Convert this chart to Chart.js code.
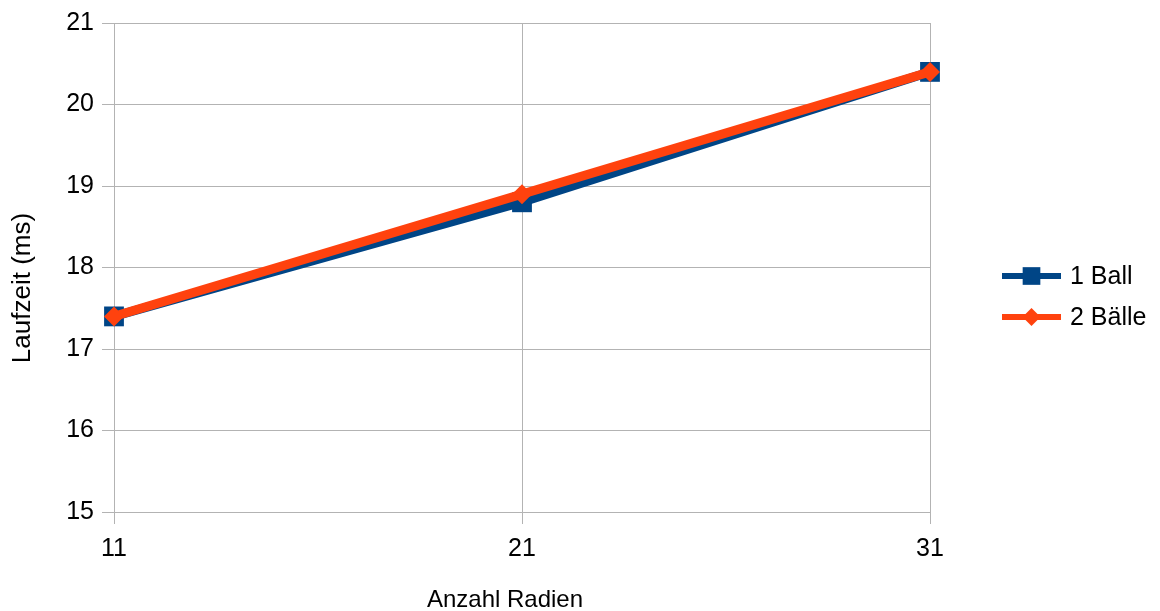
<!DOCTYPE html>
<html>
<head>
<meta charset="utf-8">
<script src="https://cdn.jsdelivr.net/npm/chart.js@4/dist/chart.umd.min.js"></script>
<style>
  html, body { margin: 0; padding: 0; background: #ffffff; }
  #wrap { width: 1160px; height: 611px; position: relative; }
</style>
</head>
<body>
<div id="wrap"><canvas id="c" width="1160" height="611"></canvas></div>
<script>
// Anzahl Radien (x categories)
const radien = ['11', '21', '31'];
// Laufzeit in ms
const einBall = [17.4, 18.8, 20.4];
const zweiBaelle = [17.4, 18.9, 20.4];
const seriesNames = ['1 Ball', '2 Bälle'];
const yTitle = 'Laufzeit (ms)';
const xTitle = 'Anzahl Radien';

const FONT = "'Liberation Sans', Arial, sans-serif";
const GRID = '#b3b3b3';
const BLUE = '#004586';
const ORANGE = '#ff420e';

// Axis titles, placed relative to the whole page rather than the plot area
const axisTitles = {
  id: 'axisTitles',
  afterDraw(chart) {
    const ctx = chart.ctx;
    ctx.save();
    ctx.fillStyle = '#000000';
    ctx.textAlign = 'center';
    ctx.textBaseline = 'middle';
    ctx.font = '24px ' + FONT;
    ctx.fillText(xTitle, 505, 600);
    ctx.translate(23, 288);
    ctx.rotate(-Math.PI / 2);
    ctx.font = '26px ' + FONT;
    ctx.fillText(yTitle, 0, 0);
    ctx.restore();
  }
};

// Legend drawn at the right: a short line with the series marker, then the name
const sideLegend = {
  id: 'sideLegend',
  afterDraw(chart) {
    const ctx = chart.ctx;
    const ys = [276, 317];
    ctx.save();
    chart.data.datasets.forEach((ds, k) => {
      const y = ys[k];
      const x0 = 1002, x1 = 1061, xm = (x0 + x1) / 2;
      ctx.strokeStyle = ds.borderColor;
      ctx.lineWidth = 6;
      ctx.beginPath();
      ctx.moveTo(x0, y);
      ctx.lineTo(x1, y);
      ctx.stroke();
      ctx.fillStyle = ds.borderColor;
      Chart.helpers.drawPoint(ctx, {
        pointStyle: ds.pointStyle,
        radius: ds.pointStyle === 'rect' ? 12.5 : 9,
        borderWidth: 0,
        rotation: 0
      }, xm, y);
      ctx.fillStyle = '#000000';
      ctx.font = '25px ' + FONT;
      ctx.textBaseline = 'middle';
      ctx.textAlign = 'left';
      ctx.fillText(ds.label, 1070, y + 1);
    });
    ctx.restore();
  }
};

new Chart(document.getElementById('c'), {
  type: 'line',
  data: {
    labels: radien,
    datasets: [
      {
        label: seriesNames[0],
        data: einBall,
        borderColor: BLUE,
        backgroundColor: BLUE,
        borderWidth: 9,
        pointStyle: 'rect',
        pointRadius: 14,
        pointBorderWidth: 0,
        pointBackgroundColor: BLUE,
        tension: 0,
        order: 1
      },
      {
        label: seriesNames[1],
        data: zweiBaelle,
        borderColor: ORANGE,
        backgroundColor: ORANGE,
        borderWidth: 9,
        pointStyle: 'rectRot',
        pointRadius: 10,
        pointBorderWidth: 0,
        pointBackgroundColor: ORANGE,
        tension: 0,
        order: 0
      }
    ]
  },
  options: {
    responsive: false,
    animation: false,
    devicePixelRatio: 1,
    layout: { padding: { top: 23, right: 230, bottom: 0, left: 0 } },
    plugins: {
      legend: { display: false },
      tooltip: { enabled: false }
    },
    scales: {
      x: {
        type: 'category',
        offset: false,
        afterFit(scale) { scale.height = 99; },
        grid: {
          color: GRID,
          lineWidth: 1,
          drawTicks: true,
          tickLength: 12,
          tickColor: GRID
        },
        border: { color: GRID, width: 1 },
        ticks: {
          color: '#000000',
          font: { family: FONT, size: 25 },
          padding: 10,
          maxRotation: 0
        }
      },
      y: {
        min: 15,
        max: 21,
        afterFit(scale) { scale.width = 114; },
        grid: {
          color: GRID,
          lineWidth: 1,
          drawTicks: true,
          tickLength: 12,
          tickColor: GRID
        },
        border: { color: GRID, width: 1 },
        ticks: {
          stepSize: 1,
          color: '#000000',
          font: { family: FONT, size: 25 },
          padding: 8
        }
      }
    }
  },
  plugins: [axisTitles, sideLegend]
});
</script>
</body>
</html>
